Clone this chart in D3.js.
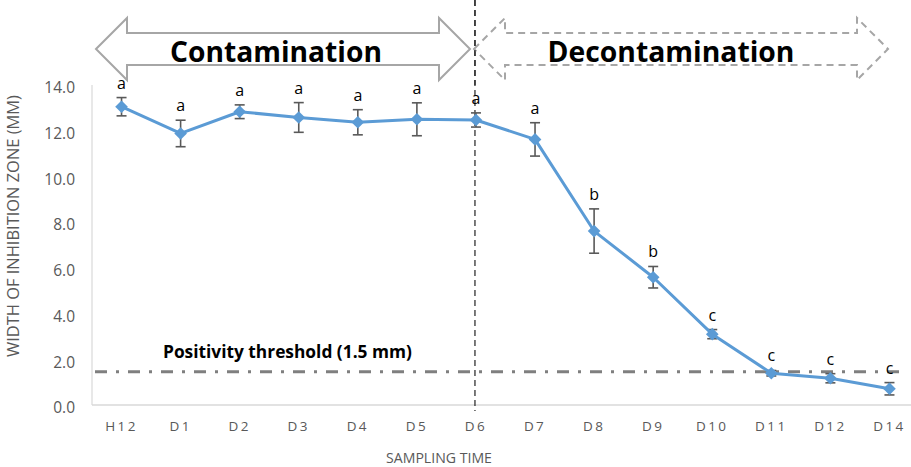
<!DOCTYPE html>
<html><head><meta charset="utf-8">
<script src="https://cdn.jsdelivr.net/npm/d3@7"></script>
<style>html,body{margin:0;padding:0;background:#fff;}svg{display:block;}</style>
</head><body>
<svg id="chart" width="911" height="467"></svg>
<script>
const categories = ["H12","D1","D2","D3","D4","D5","D6","D7","D8","D9","D10","D11","D12","D14"];
const means = [13.05,11.88,12.83,12.58,12.37,12.5,12.47,11.62,7.61,5.59,3.1,1.39,1.17,0.71];
const errors = [0.4,0.58,0.3,0.65,0.55,0.72,0.31,0.73,0.97,0.47,0.2,0.12,0.2,0.27];
const letters = ["a","a","a","a","a","a","a","a","b","b","c","c","c","c"];
const yTicks = [0,2,4,6,8,10,12,14];
const threshold = 1.5;
const thresholdLabel = "Positivity threshold (1.5 mm)";
const phaseLabels = ["Contamination","Decontamination"];
const phaseSplit = "D6";
const yTitle = "WIDTH OF INHIBITION ZONE (MM)";
const xTitle = "SAMPLING TIME";

(function(){
const svg = d3.select("#chart");
const pL = 92, pR = 919, pT = 85, pB = 405;
const x = d3.scaleBand().domain(categories).range([pL, pR]);
const cx = c => x(c) + x.bandwidth()/2;
const y = d3.scaleLinear().domain([0,14]).range([pB, pT]);
const font = "'Open Sans', 'Liberation Sans', sans-serif";
const data = categories.map((c,i)=>({c, m:means[i], e:errors[i], l:letters[i]}));

function fitWidth(sel, w){
  const cur = sel.node().getComputedTextLength();
  const fs = +sel.attr("font-size");
  if (cur > 0) sel.attr("font-size", fs*w/cur);
}

svg.append("line").attr("x1",pL).attr("x2",pL).attr("y1",pT).attr("y2",pB)
  .attr("stroke","#d9d9d9").attr("stroke-width",1.2);
svg.append("line").attr("x1",pL).attr("x2",911).attr("y1",pB).attr("y2",pB)
  .attr("stroke","#d9d9d9").attr("stroke-width",1.5);

const yAxis = d3.axisLeft(y).tickValues(yTicks).tickFormat(d3.format(".1f")).tickSize(0).tickPadding(17);
const gy = svg.append("g").attr("transform",`translate(${pL},0)`).call(yAxis);
gy.select(".domain").remove();
gy.selectAll("text").attr("font-family",font).attr("font-size",15.5).attr("fill","#595959").attr("dy","0.5em");

const xAxis = d3.axisBottom(x).tickSize(0).tickPadding(16);
const gx = svg.append("g").attr("transform",`translate(0,${pB})`).call(xAxis);
gx.select(".domain").remove();
gx.selectAll("text").attr("font-family",font).attr("font-size",13.5).attr("fill","#595959")
  .attr("letter-spacing","2.4px");

const yt = svg.append("text").attr("transform",`translate(19,226) rotate(-90)`)
  .attr("text-anchor","middle").attr("font-family",font).attr("font-size",13).attr("fill","#595959").text(yTitle);
fitWidth(yt, 262);
const xt = svg.append("text").attr("x",439).attr("y",463).attr("text-anchor","middle")
  .attr("font-family",font).attr("font-size",13).attr("fill","#595959").text(xTitle);
fitWidth(xt, 106);

svg.append("line").attr("x1",pL+3).attr("x2",908).attr("y1",y(threshold)+1).attr("y2",y(threshold)+1)
  .attr("stroke","#7f7f7f").attr("stroke-width",3).attr("stroke-dasharray","12,9,3,9");
const tl = svg.append("text").attr("x",163).attr("y",y(threshold)-13)
  .attr("font-family",font).attr("font-weight","bold").attr("font-size",14.5).attr("fill","#000").text(thresholdLabel);
fitWidth(tl, 249);

svg.append("line").attr("x1",cx(phaseSplit)-1).attr("x2",cx(phaseSplit)-1).attr("y1",0).attr("y2",pB+6)
  .attr("stroke","#222").attr("stroke-width",1.2).attr("stroke-dasharray","6,4");

function arrowPath(x0,x1,cy,hw,sh,hl){
  return `M${x0},${cy} L${x0+hl},${cy-hw} L${x0+hl},${cy-sh} L${x1-hl},${cy-sh} L${x1-hl},${cy-hw} L${x1},${cy} L${x1-hl},${cy+hw} L${x1-hl},${cy+sh} L${x0+hl},${cy+sh} L${x0+hl},${cy+hw} Z`;
}
svg.append("path").attr("d",arrowPath(96,470,49,31,16,31)).attr("fill","#fff")
  .attr("stroke","#a6a6a6").attr("stroke-width",2);
svg.append("path").attr("d",arrowPath(474,888,49,31,16,31)).attr("fill","none")
  .attr("stroke","#a6a6a6").attr("stroke-width",2).attr("stroke-dasharray","7,5");
svg.append("line").attr("x1",cx(phaseSplit)-1).attr("x2",cx(phaseSplit)-1).attr("y1",0).attr("y2",85)
  .attr("stroke","#222").attr("stroke-width",1.2).attr("stroke-dasharray","6,4");

const t1 = svg.append("text").attr("x",276).attr("y",62).attr("text-anchor","middle")
  .attr("font-family",font).attr("font-weight","bold").attr("font-size",28).attr("fill","#000").text(phaseLabels[0]);
fitWidth(t1, 212);
const t2 = svg.append("text").attr("x",671).attr("y",62).attr("text-anchor","middle")
  .attr("font-family",font).attr("font-weight","bold").attr("font-size",28).attr("fill","#000").text(phaseLabels[1]);
fitWidth(t2, 247);

const eb = svg.append("g").attr("stroke","#595959").attr("stroke-width",1.6);
data.forEach(d=>{
  const X = cx(d.c);
  eb.append("line").attr("x1",X).attr("x2",X).attr("y1",y(d.m+d.e)).attr("y2",y(d.m-d.e));
  eb.append("line").attr("x1",X-5).attr("x2",X+5).attr("y1",y(d.m+d.e)).attr("y2",y(d.m+d.e));
  eb.append("line").attr("x1",X-5).attr("x2",X+5).attr("y1",y(d.m-d.e)).attr("y2",y(d.m-d.e));
});

svg.append("path").datum(data).attr("fill","none").attr("stroke","#5b9bd5").attr("stroke-width",3)
  .attr("stroke-linejoin","round")
  .attr("d", d3.line().x(d=>cx(d.c)).y(d=>y(d.m)));

svg.append("g").selectAll("path").data(data).join("path")
  .attr("transform",d=>`translate(${cx(d.c)},${y(d.m)}) rotate(45)`)
  .attr("d", d3.symbol().type(d3.symbolSquare).size(80)())
  .attr("fill","#5b9bd5");

svg.append("g").selectAll("text").data(data).join("text")
  .attr("x",d=>cx(d.c)).attr("y",d=>y(d.m+d.e)-9)
  .attr("text-anchor","middle").attr("font-family",font).attr("font-size",16).attr("fill","#000")
  .text(d=>d.l);
})();
</script>
</body></html>
